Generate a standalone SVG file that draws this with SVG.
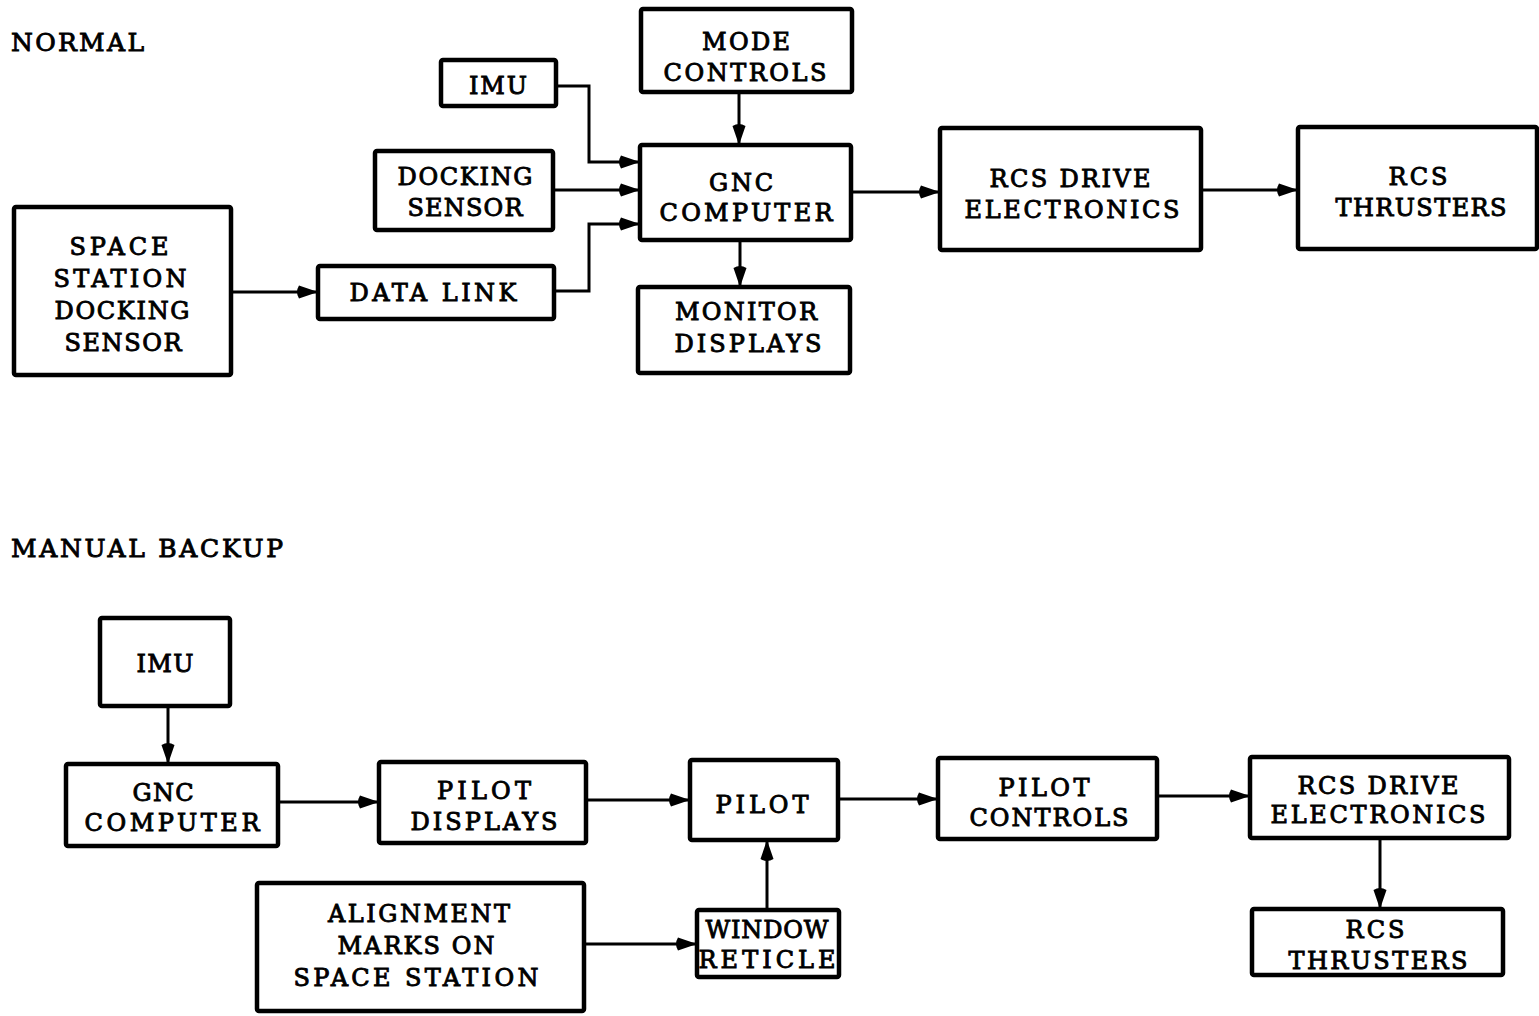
<svg xmlns="http://www.w3.org/2000/svg" width="1539" height="1016" viewBox="0 0 1539 1016">
<style>
.box{fill:#fff;stroke:#000;stroke-width:4.5;stroke-linejoin:round}
.t{font-family:"DejaVu Serif","Liberation Serif",serif;font-size:24px;fill:#000;stroke:#000;stroke-width:0.9;text-anchor:middle}
.h{font-family:"DejaVu Serif","Liberation Serif",serif;font-size:25px;fill:#000;stroke:#000;stroke-width:0.9}
.c{fill:none;stroke:#000;stroke-width:3;marker-end:url(#ah)}
</style>
<defs>
<marker id="ah" markerUnits="userSpaceOnUse" markerWidth="28" markerHeight="18" viewBox="-26 -9 28 18" refX="0" refY="0" orient="auto">
<path d="M0,0 L-19,-6.5 Q-23,0 -19,6.5 Z" fill="#000"/>
</marker>
</defs>
<rect width="1539" height="1016" fill="#fff"/>
<text class="h" x="11" y="51" textLength="133">NORMAL</text>
<text class="h" x="11" y="557" textLength="272">MANUAL BACKUP</text>

<g id="connectors">
<path class="c" d="M556,86 H589 V162 H640"/>
<path class="c" d="M552,190 H640"/>
<path class="c" d="M554,291 H589 V224 H640"/>
<path class="c" d="M231,292 H318"/>
<path class="c" d="M739,92 V145"/>
<path class="c" d="M740,240 V287"/>
<path class="c" d="M851,192 H940"/>
<path class="c" d="M1200,190 H1298"/>
<path class="c" d="M168,706 V764"/>
<path class="c" d="M278,802 H379"/>
<path class="c" d="M586,800 H690"/>
<path class="c" d="M838,799 H938"/>
<path class="c" d="M1157,796 H1250"/>
<path class="c" d="M1380,838 V909"/>
<path class="c" d="M767,910 V840"/>
<path class="c" d="M584,944 H697"/>
</g>

<g id="imu1"><rect class="box" x="441" y="60" width="115" height="46" rx="2"/><text class="t" x="498" y="94" textLength="58">IMU</text></g>
<g id="mode"><rect class="box" x="641" y="9" width="211" height="83" rx="2"/><text class="t" x="746" y="50" textLength="88">MODE</text><text class="t" x="745" y="81" textLength="163">CONTROLS</text></g>
<g id="dock"><rect class="box" x="375" y="151" width="178" height="79" rx="2"/><text class="t" x="465" y="185" textLength="135">DOCKING</text><text class="t" x="465" y="216" textLength="115">SENSOR</text></g>
<g id="ssds"><rect class="box" x="14" y="207" width="217" height="168" rx="2"/><text class="t" x="119" y="255" textLength="99">SPACE</text><text class="t" x="120" y="287" textLength="133">STATION</text><text class="t" x="122" y="319" textLength="135">DOCKING</text><text class="t" x="123" y="351" textLength="117">SENSOR</text></g>
<g id="datalink"><rect class="box" x="318" y="266" width="236" height="53" rx="2"/><text class="t" x="433" y="301" textLength="167">DATA LINK</text></g>
<g id="gnc1"><rect class="box" x="640" y="145" width="211" height="95" rx="2"/><text class="t" x="741" y="191" textLength="64">GNC</text><text class="t" x="746" y="221" textLength="173">COMPUTER</text></g>
<g id="monitor"><rect class="box" x="638" y="287" width="212" height="86" rx="2"/><text class="t" x="746" y="320" textLength="142">MONITOR</text><text class="t" x="748" y="352" textLength="147">DISPLAYS</text></g>
<g id="rcsde1"><rect class="box" x="940" y="128" width="261" height="122" rx="2"/><text class="t" x="1070" y="187" textLength="161">RCS DRIVE</text><text class="t" x="1072" y="218" textLength="215">ELECTRONICS</text></g>
<g id="rcst1"><rect class="box" x="1298" y="127" width="239" height="122" rx="2"/><text class="t" x="1418" y="185" textLength="59">RCS</text><text class="t" x="1421" y="216" textLength="171">THRUSTERS</text></g>

<g id="imu2"><rect class="box" x="100" y="618" width="130" height="88" rx="2"/><text class="t" x="165" y="672" textLength="57">IMU</text></g>
<g id="gnc2"><rect class="box" x="66" y="764" width="212" height="82" rx="2"/><text class="t" x="163" y="801" textLength="61">GNC</text><text class="t" x="172" y="831" textLength="175">COMPUTER</text></g>
<g id="pdisp"><rect class="box" x="379" y="762" width="207" height="81" rx="2"/><text class="t" x="484" y="799" textLength="94">PILOT</text><text class="t" x="484" y="830" textLength="147">DISPLAYS</text></g>
<g id="pilot"><rect class="box" x="690" y="760" width="148" height="80" rx="2"/><text class="t" x="762" y="813" textLength="93">PILOT</text></g>
<g id="pctrl"><rect class="box" x="938" y="758" width="219" height="81" rx="2"/><text class="t" x="1044" y="796" textLength="91">PILOT</text><text class="t" x="1049" y="826" textLength="159">CONTROLS</text></g>
<g id="rcsde2"><rect class="box" x="1250" y="757" width="259" height="81" rx="2"/><text class="t" x="1378" y="794" textLength="161">RCS DRIVE</text><text class="t" x="1378" y="823" textLength="215">ELECTRONICS</text></g>
<g id="rcst2"><rect class="box" x="1252" y="909" width="251" height="66" rx="2"/><text class="t" x="1375" y="938" textLength="59">RCS</text><text class="t" x="1378" y="969" textLength="179">THRUSTERS</text></g>
<g id="reticle"><rect class="box" x="697" y="910" width="142" height="67" rx="2"/><text class="t" x="767" y="938" textLength="123">WINDOW</text><text class="t" x="767" y="968" textLength="137">RETICLE</text></g>
<g id="align"><rect class="box" x="257" y="883" width="327" height="128" rx="2"/><text class="t" x="419" y="922" textLength="182">ALIGNMENT</text><text class="t" x="416" y="954" textLength="157">MARKS ON</text><text class="t" x="416" y="986" textLength="245">SPACE STATION</text></g>
</svg>
